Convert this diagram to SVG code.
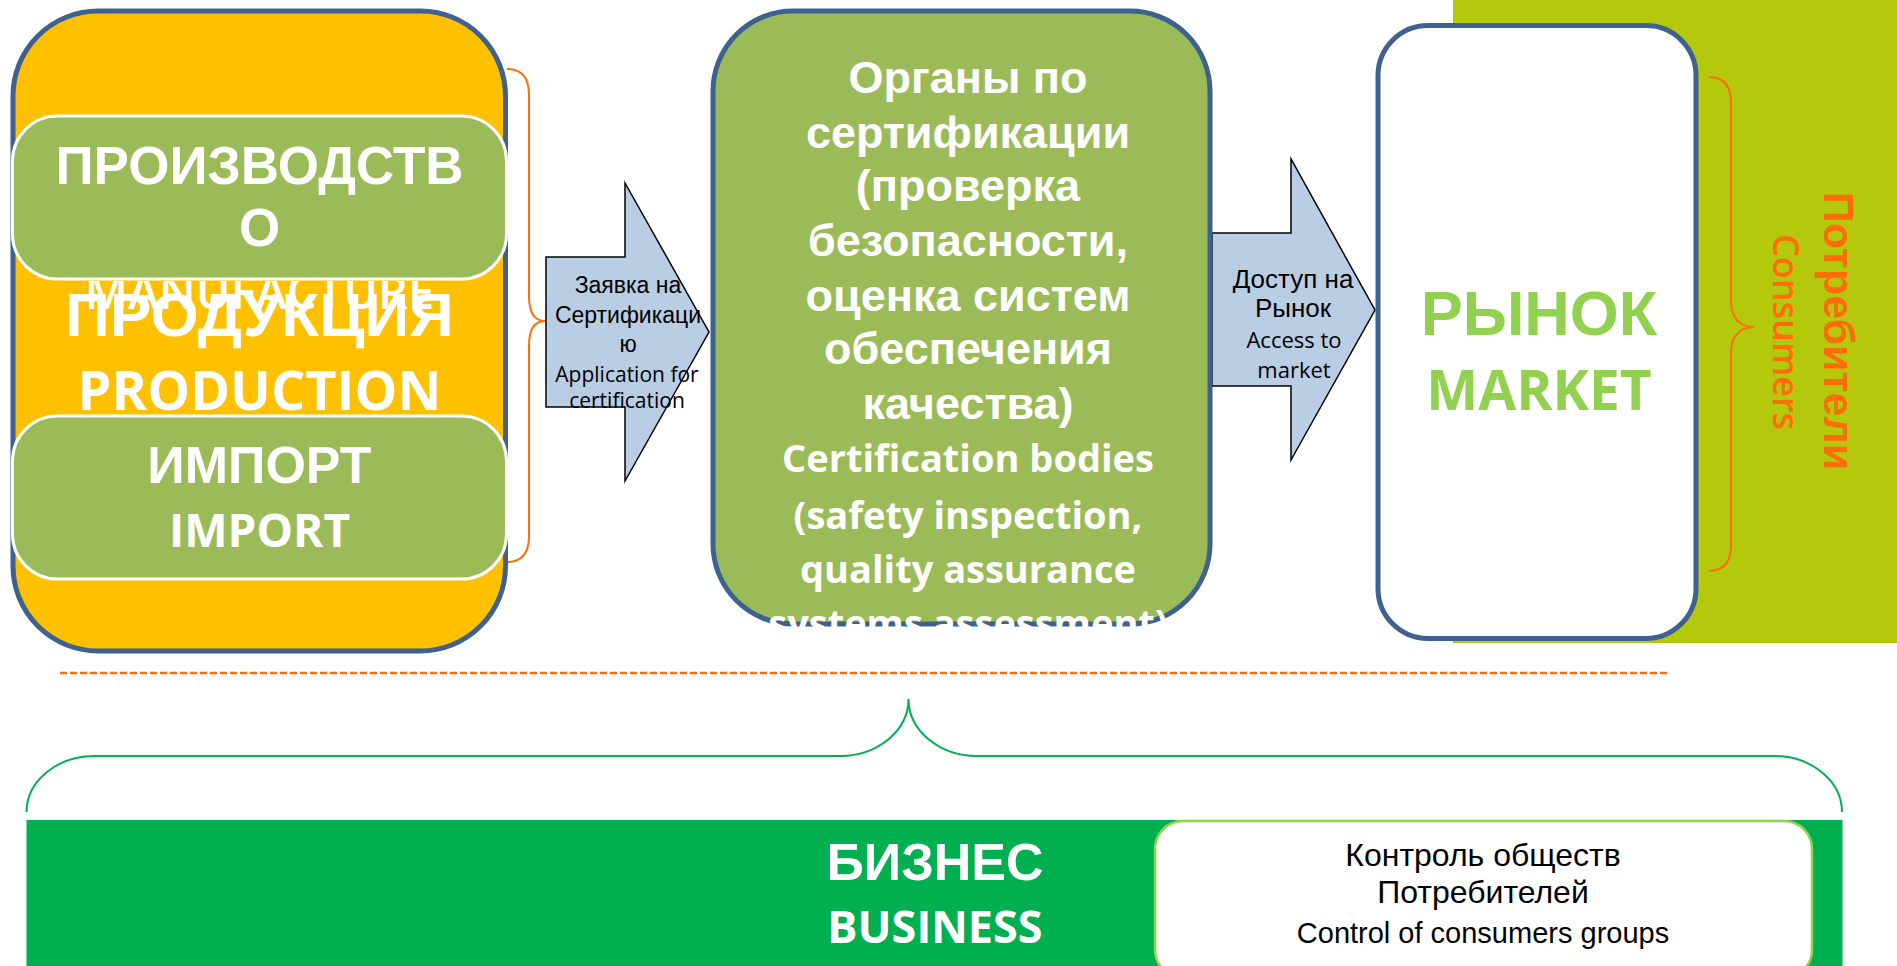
<svg xmlns="http://www.w3.org/2000/svg" width="1897" height="966" viewBox="0 0 1897 966">
<style>
.box{stroke:#3E6190;stroke-width:5}
.sub{fill:#9BBB59;stroke:#FFFFFF;stroke-width:3}
.arrow{fill:#B9CDE5;stroke:#000000;stroke-width:1.5;stroke-linejoin:miter}
.brace{fill:none;stroke:#FF6D0A;stroke-width:2}
.gbrace{fill:none;stroke:#00B050;stroke-width:2}
.wb{font-family:"Liberation Sans",Arial,sans-serif;font-weight:bold;fill:#FFFFFF;text-anchor:middle}
.we{font-family:"Open Sans",sans-serif;font-weight:bold;fill:#FFFFFF;text-anchor:middle}
.ar{font-family:"Liberation Sans",Arial,sans-serif;fill:#000000;text-anchor:middle}
.ae{font-family:"Open Sans",sans-serif;fill:#000000;text-anchor:middle}
</style>
<defs>
<clipPath id="clipManu"><rect x="0" y="281" width="520" height="60"/></clipPath>
<clipPath id="clipCert"><rect x="700" y="0" width="530" height="631"/></clipPath>
</defs>
<rect x="0" y="0" width="1897" height="966" fill="#FFFFFF"/>
<g id="consumers-bg">
<rect x="1453" y="0" width="444" height="643" fill="#B4C90B"/>
</g>
<g id="decor">
<path class="brace" d="M507,69 C522,69 529,78 529,95 L529,296 C529,313 535,321 545,321 C535,321 529,329 529,346 L529,536 C529,553 522,562 507,562"/>
<path class="brace" d="M1709,77 C1724,77 1731,86 1731,103 L1731,301 C1731,318 1740,327 1754,327 C1740,327 1731,336 1731,353 L1731,545 C1731,562 1724,571 1709,571"/>
<line x1="60" y1="673" x2="1669" y2="673" stroke="#FF6D0A" stroke-width="2.5" stroke-dasharray="7 3"/>
<path class="gbrace" d="M26.5,812 A68,56 0 0 1 94.5,756 L840,756 A68.5,57 0 0 0 908.5,699 A68.5,57 0 0 0 977,756 L1774,756 A68,56 0 0 1 1842,812"/>
</g>
<g id="connectors">
<g id="arrow-application">
<polygon class="arrow" points="546,257 625,257 625,183 709,332 625,481 625,407 546,407"/>
<text class="ar" font-size="23" x="628" y="293">Заявка на</text>
<text class="ar" font-size="23" x="628" y="323">Сертификаци</text>
<text class="ar" font-size="23" x="628" y="352">ю</text>
<text class="ae" font-size="21" x="627" y="382">Application for</text>
<text class="ae" font-size="21" x="627" y="408">certification</text>
</g>
<g id="arrow-access">
<polygon class="arrow" points="1212,233 1291,233 1291,159 1375,310 1291,460 1291,386 1212,386"/>
<text class="ar" font-size="26" x="1293" y="288">Доступ на</text>
<text class="ar" font-size="26" x="1293" y="317">Рынок</text>
<text class="ae" font-size="22" x="1294" y="348">Access to</text>
<text class="ae" font-size="22" x="1294" y="378">market</text>
</g>
</g>
<g id="production">
<rect class="box" x="13" y="11" width="492.5" height="640" rx="85" ry="85" fill="#FFC000"/>
<text class="wb" font-size="62" x="259.5" y="336">ПРОДУКЦИЯ</text>
<text class="we" font-size="54" x="259.5" y="410">PRODUCTION</text>
</g>
<g id="manufacture">
<rect class="sub" x="12.5" y="116" width="494" height="163" rx="45" ry="45"/>
<text class="wb" font-size="53" x="259.5" y="184">ПРОИЗВОДСТВ</text>
<text class="wb" font-size="53" x="259.5" y="246">О</text>
<text class="we" font-size="47" x="259.5" y="309" clip-path="url(#clipManu)" style="font-weight:600">MANUFACTURE</text>
</g>
<g id="import">
<rect class="sub" x="12.5" y="416" width="494" height="163" rx="45" ry="45"/>
<text class="wb" font-size="52" x="259.5" y="483">ИМПОРТ</text>
<text class="we" font-size="46" x="259.5" y="547">IMPORT</text>
</g>
<g id="certification">
<rect class="box" x="713" y="11" width="497" height="613" rx="80" ry="80" fill="#9BBB59"/>
<g clip-path="url(#clipCert)">
<text class="wb" font-size="45" x="968" y="93">Органы по</text>
<text class="wb" font-size="45" x="968" y="148">сертификации</text>
<text class="wb" font-size="45" x="968" y="201">(проверка</text>
<text class="wb" font-size="45" x="968" y="256">безопасности,</text>
<text class="wb" font-size="45" x="968" y="311">оценка систем</text>
<text class="wb" font-size="45" x="968" y="364">обеспечения</text>
<text class="wb" font-size="45" x="968" y="419">качества)</text>
<text class="we" font-size="38" x="968" y="472">Certification bodies</text>
<text class="we" font-size="38" x="968" y="529">(safety inspection,</text>
<text class="we" font-size="38" x="968" y="583">quality assurance</text>
<text class="we" font-size="38" x="968" y="637">systems assessment)</text>
</g>
</g>
<g id="market">
<rect class="box" x="1378" y="25.5" width="318" height="613" rx="50" ry="50" fill="#FFFFFF"/>
<text font-family="Liberation Sans, Arial, sans-serif" font-weight="bold" font-size="63" fill="#92D050" text-anchor="middle" x="1539" y="335">РЫНОК</text>
<text font-family="Open Sans, sans-serif" font-weight="bold" font-size="55" fill="#92D050" text-anchor="middle" x="1539" y="410">MARKET</text>
</g>
<g id="consumers">
<text font-family="Liberation Sans, Arial, sans-serif" font-weight="bold" font-size="43" fill="#FF6D0A" text-anchor="middle" transform="translate(1824,331) rotate(90)">Потребители</text>
<text font-family="Open Sans, sans-serif" font-weight="600" font-size="36" fill="#FF6D0A" text-anchor="middle" transform="translate(1773,332) rotate(90)">Consumers</text>
</g>
<g id="business">
<rect x="26.5" y="820" width="1816" height="146" fill="#00B050"/>
<text class="wb" font-size="52" x="935" y="880">БИЗНЕС</text>
<text class="we" font-size="45" x="935" y="943">BUSINESS</text>
</g>
<g id="consumer-control">
<rect x="1155" y="821" width="657" height="157" rx="28" ry="28" fill="#FFFFFF" stroke="#92D050" stroke-width="2.5"/>
<text class="ar" font-size="32" x="1483" y="866">Контроль обществ</text>
<text class="ar" font-size="32" x="1483" y="903">Потребителей</text>
<text class="ar" font-size="29" x="1483" y="943">Control of consumers groups</text>
</g>
</svg>
